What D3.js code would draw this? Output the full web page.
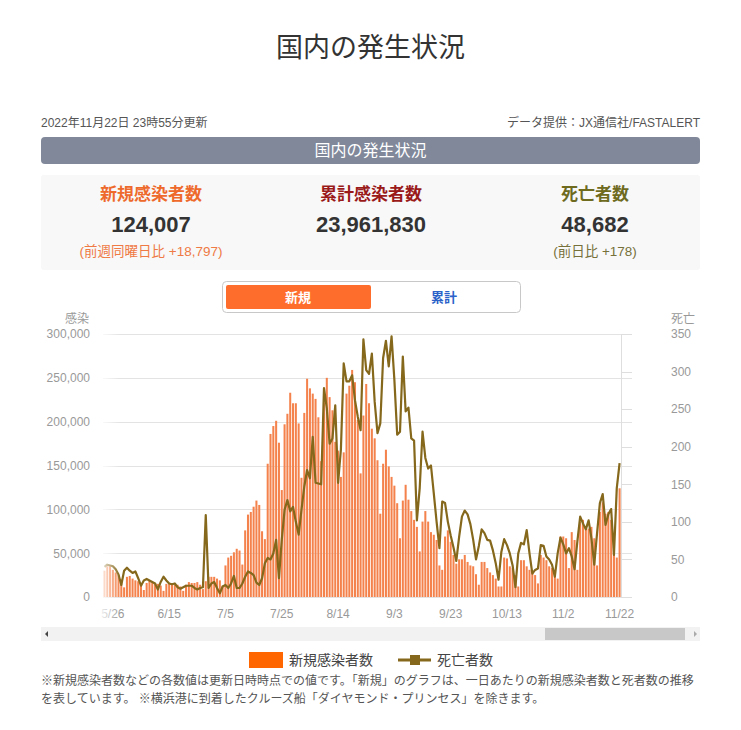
<!DOCTYPE html>
<html><head><meta charset="utf-8">
<script src="https://cdn.jsdelivr.net/npm/d3@7"></script>
<style>
body{margin:0;background:#fff;}
svg text{font-family:"Liberation Sans",Arial,"Noto Sans CJK JP",sans-serif;}
</style></head>
<body><svg id="c" width="741" height="730"></svg>
<script>
// ---- data ----
const startDate = new Date(2022, 4, 23);   // first visible day (5/23)
const endDate = new Date(2022, 10, 22);    // last day (11/22)
const xTickLabels = ["5/26","6/15","7/5","7/25","8/14","9/3","9/23","10/13","11/2","11/22"];
const leftTicks = [0,50000,100000,150000,200000,250000,300000];
const rightTicks = [0,50,100,150,200,250,300,350];
const cases = [
30000,35000,35000,31000,28000,25000,20000,11000,23000,24000,
21000,19000,18000,15000,8000,16000,19000,17000,16000,15000,
13000,7000,15000,16000,15000,14000,14000,12000,7000,14000,
17000,16000,16000,17000,14000,9000,18000,23000,23000,23000,
21000,19000,13000,36000,45000,47000,51000,55000,53000,37000,
76000,94000,97000,103000,110000,105000,75000,66000,152000,186000,
195000,201000,176000,122000,197000,209000,233000,221000,221000,198000,
136000,210000,249000,238000,232000,226000,205000,155000,222000,250000,
228000,213000,177000,167000,137000,165000,232000,241000,259000,245000,
202000,141000,207000,243000,221000,192000,181000,156000,95000,152000,
168000,149000,137000,127000,107000,67000,110000,128000,111000,98000,
88000,80000,52000,86000,98000,86000,74000,71000,65000,36000,
31000,69000,76000,63000,48000,38000,43000,43000,48000,40000,
36000,35000,26000,14000,40000,40000,33000,28000,25000,21000,
12000,12000,45000,44000,35000,33000,25000,12000,42000,42000,
35000,31000,29000,25000,15500,48000,45000,42000,35000,33000,
27000,21000,69000,69000,67000,33000,74000,65000,31000,86000,
88000,79000,78000,80000,67000,36000,97000,108000,95000,97000,
88000,69000,45000,124007];
const deaths = [
40,43,42,41,37,30,16,35,39,35,
32,34,25,15,22,24,22,20,18,10,
20,27,22,18,17,18,13,11,13,15,
15,15,12,10,12,13,109,12,18,20,
12,5,14,16,12,18,28,12,12,18,
27,34,32,29,19,16,25,45,52,50,
58,76,25,76,116,129,114,120,100,83,
116,147,169,158,213,152,151,150,278,251,
204,211,255,152,196,311,287,287,295,262,
240,222,343,302,297,324,260,218,231,318,
341,307,347,289,216,220,320,247,252,211,
208,102,145,220,185,171,175,138,100,65,
127,125,100,82,66,48,80,107,115,110,
97,76,50,68,90,85,76,75,62,45,
23,60,77,69,58,42,13,58,72,70,
89,58,31,36,38,69,68,54,50,43,
27,58,79,70,58,65,54,37,74,107,
98,90,102,78,43,85,125,137,96,110,
117,56,145,178];

// ---- layout ----
const svg = d3.select("#c");
const fmtDay = d => (d.getMonth()+1) + "/" + d.getDate();
const days = d3.timeDay.range(startDate, d3.timeDay.offset(endDate, 1)).map(fmtDay);
const data = days.map((d,i)=>({d, c:cases[i], k:deaths[i]}));

const X0 = 103, X1 = 621, YT = 334, YB = 597;
const x = d3.scaleBand().domain(days).range([X0, X1]).paddingInner(0.28).paddingOuter(0.14);
const yL = d3.scaleLinear().domain([0,300000]).range([YB, YT]);
const yR = d3.scaleLinear().domain([0,350]).range([YB, YT]);

// title
svg.append("text").attr("x",370.5).attr("y",57).attr("text-anchor","middle")
  .attr("font-size",27).attr("fill","#333").text("国内の発生状況");

svg.append("text").attr("x",41).attr("y",127).attr("font-size",12).attr("fill","#555")
  .text("2022年11月22日 23時55分更新");
svg.append("text").attr("x",700).attr("y",127).attr("font-size",12).attr("fill","#555")
  .attr("text-anchor","end").text("データ提供：JX通信社/FASTALERT");

svg.append("rect").attr("x",41).attr("y",137).attr("width",659).attr("height",27)
  .attr("rx",4).attr("fill","#80889a");
svg.append("text").attr("x",370.5).attr("y",156).attr("text-anchor","middle")
  .attr("font-size",16).attr("fill","#fff").text("国内の発生状況");

// stats panel
svg.append("rect").attr("x",41).attr("y",175).attr("width",659).attr("height",95)
  .attr("rx",3).attr("fill","#f8f8f8");
const statLabels = ["新規感染者数","累計感染者数","死亡者数"];
const statValues = ["124,007","23,961,830","48,682"];
const statSubs = ["(前週同曜日比 +18,797)","","(前日比 +178)"];
const statCx = [151, 371, 595];
const statColors = ["#ee6a2c","#9a1a1a","#6e6a1e"];
const subColors = ["#ef7a45","","#76703a"];
statLabels.forEach((t,i)=>{
  svg.append("text").attr("x",statCx[i]).attr("y",200).attr("text-anchor","middle")
    .attr("font-size",17).attr("font-weight","bold").attr("fill",statColors[i]).text(t);
  svg.append("text").attr("x",statCx[i]).attr("y",232).attr("text-anchor","middle")
    .attr("font-size",22).attr("font-weight","bold").attr("fill","#333").text(statValues[i]);
  if(statSubs[i]) svg.append("text").attr("x",statCx[i]).attr("y",256).attr("text-anchor","middle")
    .attr("font-size",13.5).attr("fill",subColors[i]).text(statSubs[i]);
});

// toggle
svg.append("rect").attr("x",222.5).attr("y",281.5).attr("width",298).attr("height",31)
  .attr("rx",4).attr("fill","#fff").attr("stroke","#c8c8c8");
svg.append("rect").attr("x",226).attr("y",285).attr("width",145).attr("height",24)
  .attr("rx",2).attr("fill","#ff6d2d");
svg.append("text").attr("x",298).attr("y",302).attr("text-anchor","middle")
  .attr("font-size",13).attr("font-weight","bold").attr("fill","#fff").text("新規");
svg.append("text").attr("x",444).attr("y",302).attr("text-anchor","middle")
  .attr("font-size",13).attr("font-weight","bold").attr("fill","#2a62c9").text("累計");

// axis titles
svg.append("text").attr("x",77).attr("y",323).attr("text-anchor","middle")
  .attr("font-size",12).attr("fill","#999").text("感染");
svg.append("text").attr("x",683).attr("y",323).attr("text-anchor","middle")
  .attr("font-size",12).attr("fill","#999").text("死亡");

// gridlines
const g = svg.append("g");
g.selectAll("line.grid").data(leftTicks).join("line")
  .attr("x1",X0).attr("x2",632).attr("y1",d=>Math.round(yL(d))+0.5).attr("y2",d=>Math.round(yL(d))+0.5)
  .attr("stroke","#e3e3e3");
g.append("line").attr("x1",X1+0.5).attr("x2",X1+0.5).attr("y1",YT).attr("y2",YB).attr("stroke","#dedede");
g.selectAll("line.rt").data(rightTicks).join("line")
  .attr("x1",X1).attr("x2",632).attr("y1",d=>Math.round(yR(d))+0.5).attr("y2",d=>Math.round(yR(d))+0.5)
  .attr("stroke","#dedede");

// left axis
const axL = svg.append("g").attr("transform","translate(90,0)")
  .call(d3.axisLeft(yL).tickValues(leftTicks).tickSize(0).tickPadding(0).tickFormat(d3.format(",")));
axL.select(".domain").remove();
axL.selectAll("text").attr("font-size",12).attr("fill","#999")
  .style("font-family",'"Liberation Sans",Arial,sans-serif');

// right axis
const axR = svg.append("g").attr("transform","translate(671,0)")
  .call(d3.axisRight(yR).tickValues(rightTicks).tickSize(0).tickPadding(0));
axR.select(".domain").remove();
axR.selectAll("text").attr("font-size",12).attr("fill","#999")
  .style("font-family",'"Liberation Sans",Arial,sans-serif');

// bars
svg.append("g").selectAll("rect").data(data).join("rect")
  .attr("x",d=>x(d.d)).attr("width",x.bandwidth())
  .attr("y",d=>yL(d.c)).attr("height",d=>YB-yL(d.c))
  .attr("fill","#f4824c");

// line
const line = d3.line().x(d=>x(d.d)+x.bandwidth()/2).y(d=>yR(d.k));
svg.append("path").datum(data).attr("d",line).attr("fill","none")
  .attr("stroke","#85681b").attr("stroke-width",2.2).attr("stroke-linejoin","round");

// x axis labels
const axX = svg.append("g").attr("transform",`translate(0,${YB+4})`)
  .call(d3.axisBottom(x).tickValues(xTickLabels).tickSize(0).tickPadding(8));
axX.select(".domain").remove();
axX.selectAll("text").attr("font-size",12).attr("fill","#999")
  .style("font-family",'"Liberation Sans",Arial,sans-serif');

// left fade
const defs = svg.append("defs");
const lg = defs.append("linearGradient").attr("id","fade").attr("x1","0").attr("x2","1");
lg.append("stop").attr("offset","0").attr("stop-color","#fff").attr("stop-opacity",1);
lg.append("stop").attr("offset","1").attr("stop-color","#fff").attr("stop-opacity",0);
svg.append("rect").attr("x",98).attr("y",326).attr("width",22).attr("height",292).attr("fill","url(#fade)");

// scrollbar
svg.append("rect").attr("x",41).attr("y",627).attr("width",659).attr("height",14).attr("fill","#f2f2f2");
svg.append("rect").attr("x",545).attr("y",628).attr("width",140).attr("height",12).attr("fill","#c8c8c8");
svg.append("path").attr("d","M48,631 L45,634 L48,637 Z").attr("fill","#444");
svg.append("path").attr("d","M694,631 L697,634 L694,637 Z").attr("fill","#aaa");

// legend
svg.append("rect").attr("x",249).attr("y",652).attr("width",34).attr("height",16).attr("fill","#ff6600");
svg.append("text").attr("x",289).attr("y",665).attr("font-size",14).attr("fill","#444").text("新規感染者数");
svg.append("line").attr("x1",398).attr("x2",431).attr("y1",660).attr("y2",660).attr("stroke","#85681b").attr("stroke-width",3);
svg.append("rect").attr("x",410).attr("y",655).attr("width",10).attr("height",10).attr("fill","#85681b");
svg.append("text").attr("x",437).attr("y",665).attr("font-size",14).attr("fill","#444").text("死亡者数");

// notes
const notes = ["※新規感染者数などの各数値は更新日時時点での値です。「新規」のグラフは、一日あたりの新規感染者数と死者数の推移",
  "を表しています。 ※横浜港に到着したクルーズ船「ダイヤモンド・プリンセス」を除きます。"];
notes.forEach((t,i)=>svg.append("text").attr("x",41).attr("y",685+i*18)
  .attr("font-size",12).attr("fill","#555").text(t));
</script></body></html>
